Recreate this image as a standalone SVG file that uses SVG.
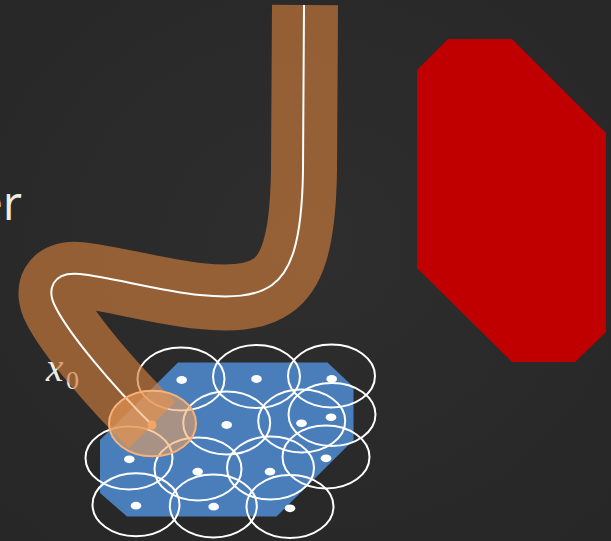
<svg xmlns="http://www.w3.org/2000/svg" width="611" height="541" viewBox="0 0 611 541">
  <style>
    .zone { fill: none; stroke: #ffffff; stroke-width: 2; }
    .dot { fill: #ffffff; }
    .chalk { fill: #efece1; }
  </style>
  <defs>
    <radialGradient id="bg" cx="50%" cy="45%" r="70%">
      <stop offset="0" stop-color="#2e2e2e"/>
      <stop offset="1" stop-color="#272727"/>
    </radialGradient>
  </defs>
  <rect width="611" height="541" fill="url(#bg)"/>

  <g id="label-er">
    <text x="22" y="220" text-anchor="end" class="chalk" font-family="'Open Sans', 'DejaVu Sans', sans-serif" font-size="47">er</text>
  </g>

  <g id="label-x0">
    <text x="46" y="381" class="chalk" font-family="'Liberation Serif', serif" font-size="39" font-style="italic">x</text>
    <text x="66" y="389" class="chalk" font-family="'Liberation Serif', serif" font-size="26">0</text>
  </g>

  <g id="obstacle">
    <polygon points="448,39 512,39 606,133 606,332 575,362 512,362 417,268 417,70" fill="#c00000"/>
  </g>

  <g id="goal-region">
    <polygon points="178,362.5 327.5,362.5 353.5,387 353.5,440 276.5,516.5 127,516.5 100,493 100,440" fill="#4a7ebb"/>
  </g>

  <g id="cover-circles">
    <ellipse class="zone" cx="181" cy="379" rx="43.5" ry="31.5"/>
    <ellipse class="zone" cx="256.5" cy="376.5" rx="43.5" ry="31.5"/>
    <ellipse class="zone" cx="331.5" cy="376" rx="43.5" ry="31.5"/>
    <ellipse class="zone" cx="226.7" cy="423" rx="43.5" ry="31.5"/>
    <ellipse class="zone" cx="301.7" cy="421" rx="43.5" ry="31.5"/>
    <ellipse class="zone" cx="332" cy="414.5" rx="43.5" ry="31.5"/>
    <ellipse class="zone" cx="129" cy="458" rx="43.5" ry="31.5"/>
    <ellipse class="zone" cx="198" cy="469" rx="43.5" ry="31.5"/>
    <ellipse class="zone" cx="270.5" cy="468" rx="43.5" ry="31.5"/>
    <ellipse class="zone" cx="326" cy="457" rx="43.5" ry="31.5"/>
    <ellipse class="zone" cx="136" cy="504.7" rx="43.5" ry="31.5"/>
    <ellipse class="zone" cx="213.3" cy="506" rx="43.5" ry="31.5"/>
    <ellipse class="zone" cx="290" cy="506.5" rx="43.5" ry="31.5"/>
  </g>

  <g id="cover-centers">
    <ellipse class="dot" cx="181.7" cy="380" rx="5.3" ry="3.9"/>
    <ellipse class="dot" cx="256.5" cy="379" rx="5.3" ry="3.9"/>
    <ellipse class="dot" cx="331.7" cy="379" rx="5.3" ry="3.9"/>
    <ellipse class="dot" cx="226.7" cy="425" rx="5.3" ry="3.9"/>
    <ellipse class="dot" cx="301.5" cy="423.3" rx="5.3" ry="3.9"/>
    <ellipse class="dot" cx="331" cy="417.3" rx="5.3" ry="3.9"/>
    <ellipse class="dot" cx="129.3" cy="459.3" rx="5.3" ry="3.9"/>
    <ellipse class="dot" cx="197.7" cy="471.7" rx="5.3" ry="3.9"/>
    <ellipse class="dot" cx="270" cy="471.7" rx="5.3" ry="3.9"/>
    <ellipse class="dot" cx="326" cy="458.3" rx="5.3" ry="3.9"/>
    <ellipse class="dot" cx="136" cy="505.7" rx="5.3" ry="3.9"/>
    <ellipse class="dot" cx="213.7" cy="506.7" rx="5.3" ry="3.9"/>
    <ellipse class="dot" cx="290" cy="508.3" rx="5.3" ry="3.9"/>
  </g>

  <g id="connectors">
    <path id="tube" d="M305,5 L304,170 C303,245 291,273 272,286 C255,298 230,299 200,296 C160,292 110,278 80,275 C52,272 46,291 56,309 C70,336 110,383 152,425"
          fill="none" stroke="#d07c3e" stroke-opacity="0.65" stroke-width="66" stroke-linejoin="round" stroke-linecap="butt"/>
    <path id="trajectory" d="M304,5 L303,170 C302,245 290,272 272,285 C255,297 230,298 200,295 C160,291 110,277 80,274 C52,271 46,290 56,308 C70,335 110,383 152,425"
          fill="none" stroke="#ffffff" stroke-width="2"/>
  </g>

  <g id="start-x0">
    <ellipse cx="152.5" cy="423.5" rx="43.5" ry="32.8" fill="#f6a35a" fill-opacity="0.55" stroke="#f7b27a" stroke-width="2"/>
    <circle cx="152" cy="425" r="4.5" fill="#f5a562"/>
  </g>
</svg>
